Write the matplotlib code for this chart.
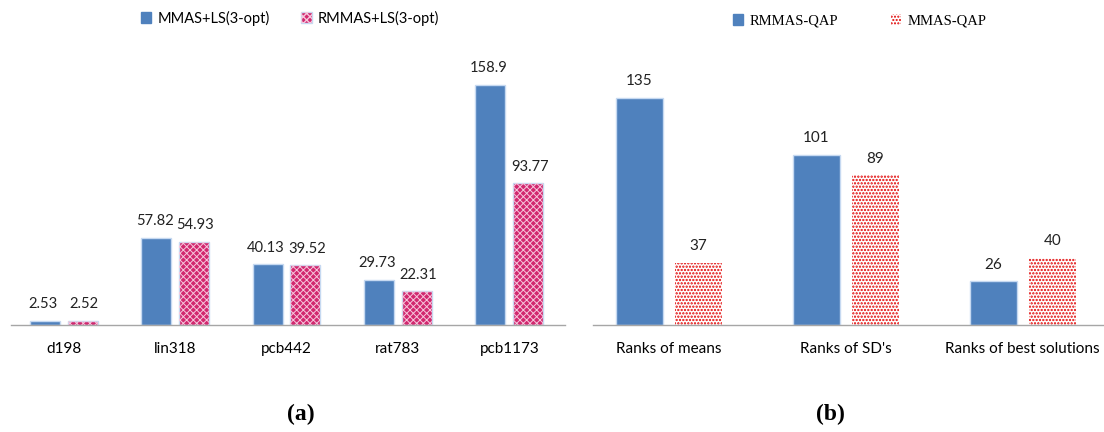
import matplotlib
matplotlib.use("Agg")
import matplotlib.pyplot as plt
import numpy as np
from matplotlib.patches import Patch
from matplotlib.legend_handler import HandlerTuple

# ---- data ----
inst_labels = ["d198", "lin318", "pcb442", "rat783", "pcb1173"]
mmas_ls = [2.53, 57.82, 40.13, 29.73, 158.9]
rmmas_ls = [2.52, 54.93, 39.52, 22.31, 93.77]
mmas_ls_txt = ["2.53", "57.82", "40.13", "29.73", "158.9"]
rmmas_ls_txt = ["2.52", "54.93", "39.52", "22.31", "93.77"]

rank_labels = ["Ranks of means", "Ranks of SD's", "Ranks of best solutions"]
rmmas_qap = [135, 101, 26]
mmas_qap = [37, 89, 40]

W, H = 1104, 432
fig = plt.figure(figsize=(W / 100, H / 100), dpi=100)

SANS = ["Lato", "DejaVu Sans"]
SERIF = ["Liberation Serif", "DejaVu Serif"]
BLUE = "#4f81bd"
PINK = "#d2286f"
RED = "#e00000"
EDGE = "#c6d9f1"
AXC = "#a6a6a6"
PINK_HATCH = "xxxxx"
RED_HATCH = "....."
RED_LW = 1.1
VAL_FS = 10.6


def px_axes(x0, x1, ybase, ytop):
    return fig.add_axes([x0 / W, (H - ybase) / H, (x1 - x0) / W, (ybase - ytop) / H])


def style(ax):
    for s in ["top", "right", "left"]:
        ax.spines[s].set_visible(False)
    ax.spines["bottom"].set_color(AXC)
    ax.spines["bottom"].set_linewidth(1.0)
    ax.set_yticks([])
    ax.tick_params(axis="x", length=0, pad=12, labelsize=11)
    for t in ax.get_xticklabels():
        t.set_fontfamily(SANS)


# ---- left panel ----
axL = px_axes(11, 565, 325, 25)
x = np.arange(len(inst_labels))
bw, off = 0.27, 0.17
axL.bar(x - off, mmas_ls, bw, color=BLUE, edgecolor=EDGE, linewidth=1)
axL.bar(x + off, rmmas_ls, bw, color=PINK, edgecolor=EDGE, linewidth=1)
with plt.rc_context({"hatch.linewidth": 0.7}):
    axL.bar(x + off, rmmas_ls, bw, facecolor="none", edgecolor="#f6c6dc",
            hatch=PINK_HATCH, linewidth=0)
axL.set_xlim(-0.473, 4.50)
axL.set_ylim(0, 158.9 * 300 / 240)
axL.set_xticks(x)
axL.set_xticklabels(inst_labels)
style(axL)
for xi, v, t in zip(x - off, mmas_ls, mmas_ls_txt):
    axL.annotate(t, (xi, v), xytext=(-1, 7), textcoords="offset points",
                 ha="center", va="bottom", fontsize=VAL_FS, family=SANS, color="#222222")
for xi, v, t in zip(x + off, rmmas_ls, rmmas_ls_txt):
    axL.annotate(t, (xi, v), xytext=(1, 7), textcoords="offset points",
                 ha="center", va="bottom", fontsize=VAL_FS, family=SANS, color="#222222")

hb = Patch(facecolor=BLUE, edgecolor=BLUE)
hp1 = Patch(facecolor=PINK, edgecolor=EDGE)
with plt.rc_context({"hatch.linewidth": 0.7}):
    hp2 = Patch(facecolor="none", edgecolor="#f6c6dc", hatch=PINK_HATCH, linewidth=0)
fig.legend([hb, (hp1, hp2)], ["MMAS+LS(3-opt)", "RMMAS+LS(3-opt)"],
           handler_map={tuple: HandlerTuple(ndivide=1)},
           loc="center", bbox_to_anchor=(290 / W, 1 - 18 / H), ncol=2,
           frameon=False, prop={"family": SANS, "size": 10.5},
           handlelength=0.7, handleheight=0.7, handletextpad=0.4,
           columnspacing=2.2)

# ---- right panel ----
axR = px_axes(593, 1104, 325, 25)
xr = np.arange(len(rank_labels))
bw2, off2 = 0.266, 0.167
axR.bar(xr - off2, rmmas_qap, bw2, color=BLUE, edgecolor=EDGE, linewidth=1)
with plt.rc_context({"hatch.linewidth": RED_LW}):
    axR.bar(xr + off2, mmas_qap, bw2, facecolor="white", edgecolor=RED,
            hatch=RED_HATCH, linewidth=0)
axR.set_xlim(-0.43, 2.46)
axR.set_ylim(0, 135 * 300 / 227)
axR.set_xticks(xr)
axR.set_xticklabels(rank_labels)
style(axR)
for xi, v in zip(xr - off2, rmmas_qap):
    axR.annotate(str(v), (xi, v), xytext=(0, 7), textcoords="offset points",
                 ha="center", va="bottom", fontsize=11, family=SANS, color="#222222")
for xi, v in zip(xr + off2, mmas_qap):
    axR.annotate(str(v), (xi, v), xytext=(0, 7), textcoords="offset points",
                 ha="center", va="bottom", fontsize=11, family=SANS, color="#222222")

hb2 = Patch(facecolor=BLUE, edgecolor=BLUE)
with plt.rc_context({"hatch.linewidth": RED_LW}):
    hr2 = Patch(facecolor="white", edgecolor=RED, hatch=RED_HATCH, linewidth=0)
fig.legend([hb2, hr2], ["RMMAS-QAP", "MMAS-QAP"],
           loc="center", bbox_to_anchor=(860 / W, 1 - 21 / H), ncol=2,
           frameon=False, prop={"family": SERIF, "size": 10.5},
           handlelength=0.7, handleheight=0.7, handletextpad=0.45,
           columnspacing=3.6)

# ---- panel captions ----
fig.text(301 / W, 1 - 414 / H, "(a)", ha="center", va="center",
         fontsize=17, fontweight="bold", family=SERIF)
fig.text(830 / W, 1 - 414 / H, "(b)", ha="center", va="center",
         fontsize=17, fontweight="bold", family=SERIF)

fig.savefig("out.png", dpi=100)
